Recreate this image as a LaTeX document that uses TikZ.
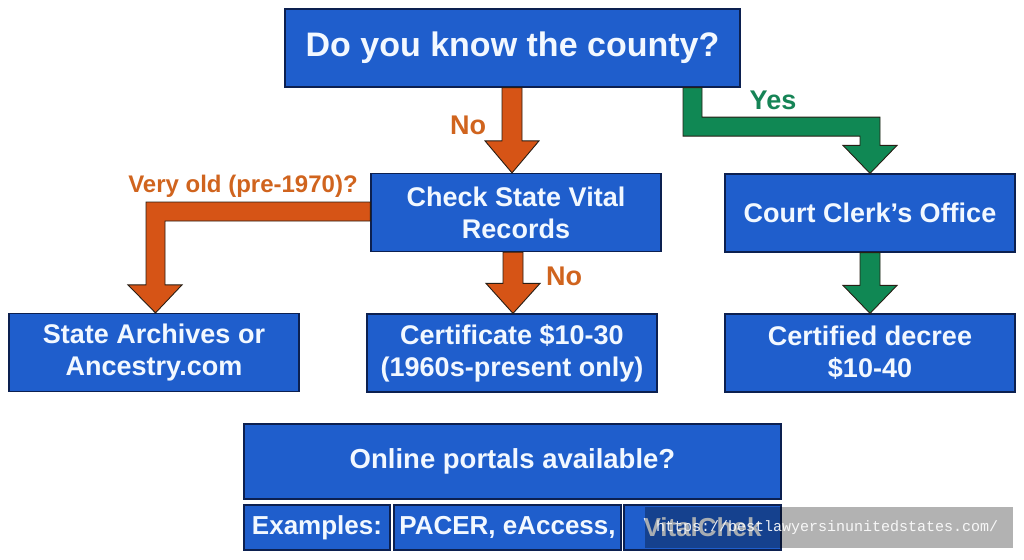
\documentclass[tikz,border=0pt]{standalone}
\usepackage{fontspec}
\setmainfont{Liberation Sans}
\newfontfamily\wmfont{Liberation Mono}
\usetikzlibrary{calc}
\definecolor{boxblue}{RGB}{31,94,204}
\definecolor{boxedge}{RGB}{12,32,80}
\definecolor{boxtext}{RGB}{242,248,255}
\definecolor{arrorange}{RGB}{214,84,22}
\definecolor{arrgreen}{RGB}{16,136,84}
\definecolor{arredge}{RGB}{40,30,20}
\definecolor{lblorange}{RGB}{208,100,30}
\definecolor{lblgreen}{RGB}{22,132,86}
\tikzset{
  flowbox/.style={draw=boxedge, line width=1.2pt, fill=boxblue, text=boxtext,
    font=\bfseries\fontsize{27}{32}\selectfont, align=center, inner sep=0pt,
    minimum width=290pt, minimum height=78pt},
  rowbox/.style={flowbox, minimum height=45pt, font=\bfseries\fontsize{26}{30}\selectfont},
  fatorange/.style={fill=arrorange, draw=arredge, line width=0.9pt, line join=miter},
  fatgreen/.style={fill=arrgreen, draw=arredge, line width=0.9pt, line join=miter},
  lblo/.style={text=lblorange, font=\bfseries\fontsize{27}{30}\selectfont},
  lblg/.style={text=lblgreen, font=\bfseries\fontsize{27}{30}\selectfont},
}
\begin{document}
\begin{tikzpicture}[x=1pt,y=-1pt]
\useasboundingbox (0,0) rectangle (1024,559);
% nodes
\node[flowbox, minimum width=455pt, font=\bfseries\fontsize{34}{40}\selectfont] (q) at (512.5,48) {Do you know the county?};
\node[flowbox] (check) at (516,212.5) {Check State Vital\\Records};
\node[flowbox] (clerk) at (870,213) {Court Clerk’s Office};
\node[flowbox] (archives) at (154,352.5) {State Archives or\\Ancestry.com};
\node[flowbox] (cert) at (512,353) {Certificate \$10-30\\(1960s-present only)};
\node[flowbox] (decree) at (870,353) {Certified decree\\\$10-40};
\node[flowbox, minimum width=537pt, minimum height=75pt, font=\bfseries\fontsize{27.5}{32}\selectfont] (online) at (512.5,461.5) {Online portals available?};
\node[rowbox, minimum width=146pt] (examples) at (317,527.5) {Examples:};
\node[rowbox, minimum width=227pt] (pacer) at (507.5,527.5) {PACER, eAccess,};
\node[rowbox, minimum width=157pt] (vital) at (702.5,527.5) {VitalChek};
% connectors
\coordinate (nostart) at ($(q.south)+(-0.5,0)$);
\draw[fatorange] let \p1=(nostart), \p2=(check.north) in
  (\x1-10pt,\y1) -- (\x1-10pt,\y2+32pt) -- (\x1-27pt,\y2+32pt) -- (\x1,\y2)
  -- (\x1+27pt,\y2+32pt) -- (\x1+10pt,\y2+32pt) -- (\x1+10pt,\y1) -- cycle;
\coordinate (no2start) at ($(check.south)+(-3,0)$);
\draw[fatorange] let \p1=(no2start), \p2=(cert.north) in
  (\x1-10pt,\y1) -- (\x1-10pt,\y2+30pt) -- (\x1-27pt,\y2+30pt) -- (\x1,\y2)
  -- (\x1+27pt,\y2+30pt) -- (\x1+10pt,\y2+30pt) -- (\x1+10pt,\y1) -- cycle;
\draw[fatgreen] let \p1=(clerk.south), \p2=(decree.north) in
  (\x1-10pt,\y1) -- (\x1-10pt,\y2+28pt) -- (\x1-27pt,\y2+28pt) -- (\x1,\y2)
  -- (\x1+27pt,\y2+28pt) -- (\x1+10pt,\y2+28pt) -- (\x1+10pt,\y1) -- cycle;
\coordinate (ys) at ($(q.south)+(180,0)$);
\coordinate (yturn) at ($(q.south)+(180,39)$);
\draw[fatgreen] let \p1=(ys), \p2=(clerk.north), \p3=(yturn) in
  (\x1-9.5pt,\y1) -- (\x1-9.5pt,\y3-9.5pt) -- (\x2-10pt,\y3-9.5pt) -- (\x2-10pt,\y2+28pt)
  -- (\x2-27pt,\y2+28pt) -- (\x2,\y2) -- (\x2+27pt,\y2+28pt) -- (\x2+10pt,\y2+28pt)
  -- (\x2+10pt,\y3+9.5pt) -- (\x1+9.5pt,\y3+9.5pt) -- (\x1+9.5pt,\y1) -- cycle;
\coordinate (vs) at ($(check.west)+(0,-1)$);
\draw[fatorange] let \p1=(vs), \p2=(archives.north) in
  (\x1,\y1+9.5pt) -- (\x2-8pt,\y1+9.5pt) -- (\x2-8pt,\y2+28pt) -- (\x2-26pt,\y2+28pt)
  -- (\x2+1.5pt,\y2) -- (\x2+28pt,\y2+28pt) -- (\x2+11pt,\y2+28pt) -- (\x2+11pt,\y1-9.5pt)
  -- (\x1,\y1-9.5pt) -- cycle;
% labels
\node[lblo] (lno1) at (468,125) {No};
\node[lblo] (lno2) at (564,276) {No};
\node[lblg] (lyes) at (773,100) {Yes};
\node[lblo, font=\bfseries\fontsize{24}{28}\selectfont] (lold) at (243,186) {Very old (pre-1970)?};
% watermark
\fill[black, opacity=0.3] (645,507) rectangle (1013,548);
\node[anchor=west, text=white, text opacity=0.9, font=\wmfont\fontsize{15}{18}\selectfont, inner sep=0pt] (wm) at (656,528) {https://bestlawyersinunitedstates.com/};
\end{tikzpicture}
\end{document}
